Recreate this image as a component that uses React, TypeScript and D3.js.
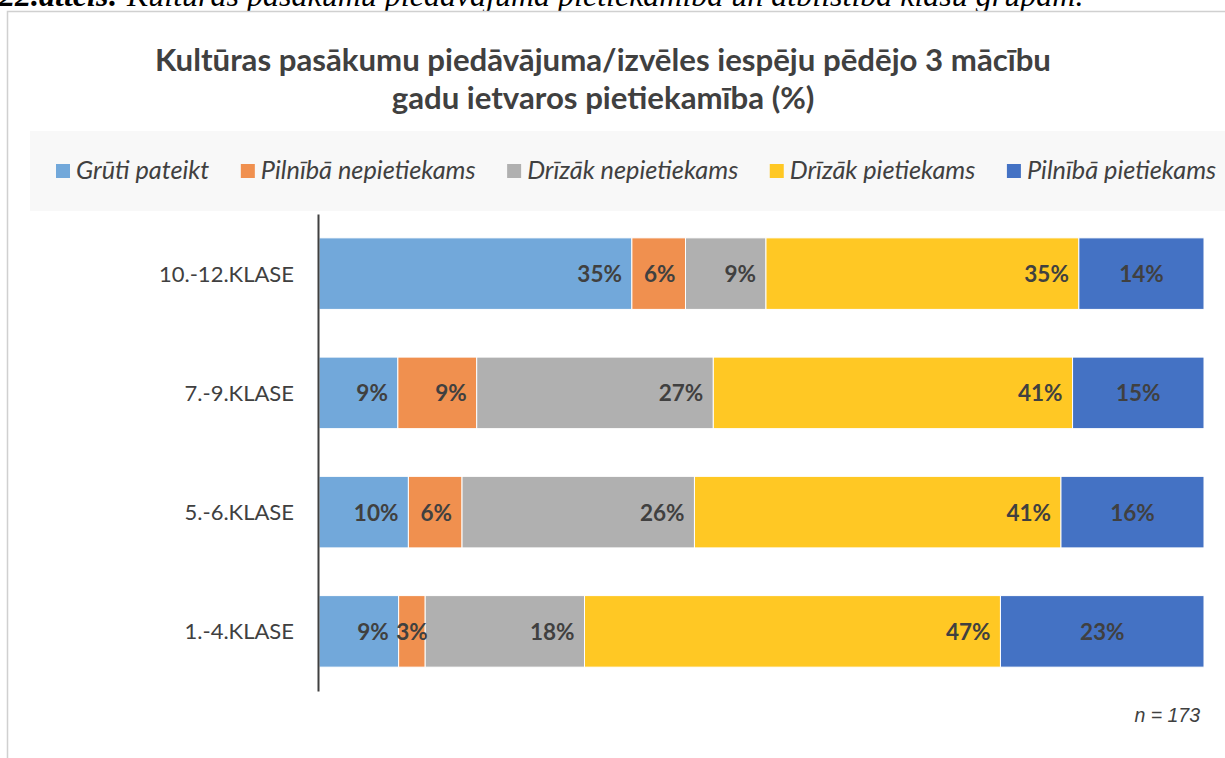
import { useEffect, useRef } from 'react';
import * as d3 from 'd3';

// klašu grupas, no augšas uz leju
const categories = ['10.-12.KLASE', '7.-9.KLASE', '5.-6.KLASE', '1.-4.KLASE'];
const seriesNames = ['Grūti pateikt', 'Pilnībā nepietiekams', 'Drīzāk nepietiekams', 'Drīzāk pietiekams', 'Pilnībā pietiekams'];
const grutiPateikt = [35, 9, 10, 9];
const pilnibaNepietiekams = [6, 9, 6, 3];
const drizakNepietiekams = [9, 27, 26, 18];
const drizakPietiekams = [35, 41, 41, 47];
const pilnibaPietiekams = [14, 15, 16, 23];
const seriesColors = ['#72a8da', '#f0904f', '#b0b0b0', '#ffc824', '#4472c4'];
const titleLines = ['Kultūras pasākumu piedāvājuma/izvēles iespēju pēdējo 3 mācību', 'gadu ietvaros pietiekamība (%)'];
const captionNum = '22.attēls:';
const captionText = ' Kultūras pasākumu piedāvājuma pietiekamība un atbilstība klašu grupām.';
const sampleNote = 'n = 173';

const W = 1225;
const H = 758;
const FONT = 'Lato, "Open Sans", sans-serif';
const TEXT = '#404040';

export default function App() {
    const svgRef = useRef<SVGSVGElement>(null);

    useEffect(() => {
        const svg = d3.select(svgRef.current);
        svg.selectAll('*').remove();

        const rows = categories.map((c, i) => ({
            cat: c,
            s0: grutiPateikt[i],
            s1: pilnibaNepietiekams[i],
            s2: drizakNepietiekams[i],
            s3: drizakPietiekams[i],
            s4: pilnibaPietiekams[i],
        }));
        const keys = ['s0', 's1', 's2', 's3', 's4'];
        const stacked = d3.stack<any>().keys(keys).offset(d3.stackOffsetExpand)(rows);

        // attēla paraksts (augšā nogriezts)
        const cap = svg.append('text')
            .attr('x', -1)
            .attr('y', 6)
            .style('font-family', '"Liberation Serif", "Times New Roman", serif')
            .style('font-style', 'italic')
            .style('font-size', '32px')
            .attr('fill', '#000');
        cap.append('tspan').style('font-weight', 'bold').text(captionNum);
        cap.append('tspan').text(captionText);

        // diagrammas rāmis
        svg.append('rect')
            .attr('x', 7.5).attr('y', 11.5)
            .attr('width', 1400).attr('height', 900)
            .attr('fill', '#fff')
            .attr('stroke', '#d0d0d0')
            .attr('stroke-width', 1.5);

        // virsraksts
        svg.append('g').selectAll('text')
            .data(titleLines)
            .enter()
            .append('text')
            .attr('x', 603)
            .attr('y', (d, i) => 71 + i * 38)
            .attr('text-anchor', 'middle')
            .style('font-family', FONT)
            .style('font-weight', 'bold')
            .style('font-size', '31.2px')
            .attr('fill', TEXT)
            .text(d => d);

        // leģenda
        svg.append('rect')
            .attr('x', 30).attr('y', 131)
            .attr('width', 1200).attr('height', 80)
            .attr('fill', '#f8f8f8');

        const legend = svg.append('g');
        let lx = 56;
        seriesNames.forEach((name, i) => {
            legend.append('rect')
                .attr('x', lx).attr('y', 164)
                .attr('width', 14).attr('height', 14)
                .attr('fill', seriesColors[i]);
            const t = legend.append('text')
                .attr('x', lx + 20)
                .attr('y', 179)
                .style('font-family', FONT)
                .style('font-style', 'italic')
                .style('font-size', '25.3px')
                .attr('fill', TEXT)
                .text(name);
            const w = (t.node() as SVGTextElement).getComputedTextLength();
            lx += 20 + w + 31.5;
        });

        const x = d3.scaleLinear().domain([0, 1]).range([319, 1204]);
        const y = d3.scaleBand()
            .domain(categories)
            .range([214, 691])
            .paddingInner(0.4)
            .paddingOuter(0.2);

        const g = svg.append('g');
        g.selectAll('g.series')
            .data(stacked)
            .enter()
            .append('g')
            .attr('fill', (d, i) => seriesColors[i])
            .selectAll('rect')
            .data(d => d)
            .enter()
            .append('rect')
            .attr('x', d => x(d[0]))
            .attr('y', d => y(d.data.cat) as number)
            .attr('width', d => x(d[1]) - x(d[0]))
            .attr('height', y.bandwidth())
            .attr('stroke', '#fff')
            .attr('stroke-width', 1);

        // vērtību etiķetes: "iekšā galā", ja neietilpst vai pēdējai sērijai - centrā
        stacked.forEach((layer, si) => {
            g.append('g').selectAll('text')
                .data(layer)
                .enter()
                .append('text')
                .attr('y', d => (y(d.data.cat) as number) + y.bandwidth() / 2 + 8.5)
                .style('font-family', FONT)
                .style('font-weight', 'bold')
                .style('font-size', '22.5px')
                .attr('fill', TEXT)
                .text(d => `${d.data[keys[si]]}%`)
                .each(function (d) {
                    const el = d3.select(this);
                    const tw = (this as SVGTextElement).getComputedTextLength();
                    const segW = x(d[1]) - x(d[0]);
                    if (si === 4 || segW < tw + 20) {
                        el.attr('x', (x(d[0]) + x(d[1])) / 2).attr('text-anchor', 'middle');
                    } else {
                        el.attr('x', x(d[1]) - 10).attr('text-anchor', 'end');
                    }
                });
        });

        // kategoriju ass
        const axis = svg.append('g')
            .attr('transform', 'translate(318,0)')
            .call(d3.axisLeft(y).tickSize(0).tickPadding(24));
        axis.select('.domain').attr('stroke', TEXT).attr('stroke-width', 2);
        axis.selectAll('text')
            .style('font-family', FONT)
            .style('font-size', '22px')
            .attr('fill', TEXT)
            .attr('dy', '0.36em');

        svg.append('text')
            .attr('x', 1200)
            .attr('y', 722)
            .attr('text-anchor', 'end')
            .style('font-family', '"Liberation Sans", Arial, sans-serif')
            .style('font-style', 'italic')
            .style('font-size', '19.5px')
            .attr('fill', TEXT)
            .text(sampleNote);
    }, []);

    return (
        <svg
            ref={svgRef}
            width={W}
            height={H}
            style={{ position: 'absolute', left: 0, top: 0, background: '#fff' }}
        />
    );
}
